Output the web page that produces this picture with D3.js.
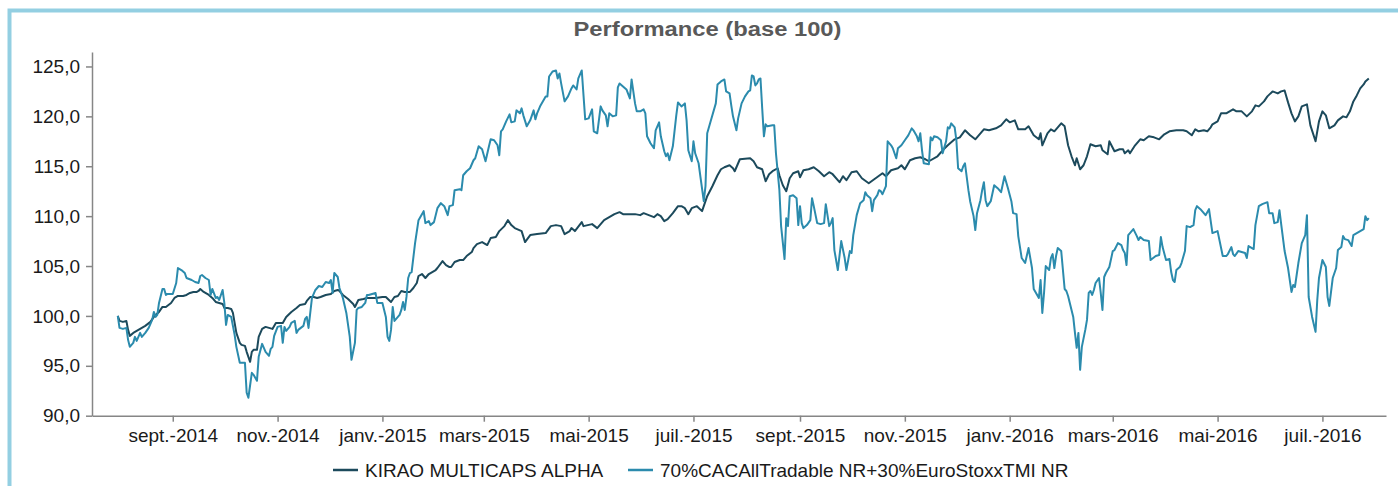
<!DOCTYPE html>
<html>
<head>
<meta charset="utf-8">
<script src="https://cdn.jsdelivr.net/npm/d3@7"></script>
<style>
  body { margin: 0; background: #fff; }
  svg { display: block; font-family: "Liberation Sans", Arial, sans-serif; }
</style>
</head>
<body>
<svg id="chart" width="1398" height="486"></svg>
<script>
// DATA
const seriesNames = ["KIRAO MULTICAPS ALPHA", "70%CACAllTradable NR+30%EuroStoxxTMI NR"];
const yTicks = [90, 95, 100, 105, 110, 115, 120, 125];
const monthNames = ["janv.", "févr.", "mars", "avr.", "mai", "juin", "juil.", "août", "sept.", "oct.", "nov.", "déc."];

const kiraoDates = [
  "2014-07-31","2014-08-01","2014-08-03","2014-08-05","2014-08-06","2014-08-07","2014-08-09","2014-08-11","2014-08-13","2014-08-16",
  "2014-08-19","2014-08-21","2014-08-22","2014-08-24","2014-08-26","2014-08-28","2014-08-31","2014-09-02","2014-09-04","2014-09-07",
  "2014-09-09","2014-09-11","2014-09-13","2014-09-15","2014-09-16","2014-09-17","2014-09-19","2014-09-22","2014-09-24","2014-09-26",
  "2014-09-28","2014-09-30","2014-10-01","2014-10-03","2014-10-05","2014-10-06","2014-10-07","2014-10-08","2014-10-10","2014-10-11",
  "2014-10-13","2014-10-14","2014-10-16","2014-10-17","2014-10-18","2014-10-20","2014-10-21","2014-10-23","2014-10-25","2014-10-27",
  "2014-10-29","2014-10-31","2014-11-02","2014-11-04","2014-11-06","2014-11-09","2014-11-12","2014-11-14","2014-11-17","2014-11-18",
  "2014-11-20","2014-11-22","2014-11-24","2014-11-26","2014-11-29","2014-12-02","2014-12-04","2014-12-06","2014-12-07","2014-12-09",
  "2014-12-12","2014-12-15","2014-12-16","2014-12-18","2014-12-21","2014-12-23","2014-12-28","2015-01-01","2015-01-03","2015-01-06",
  "2015-01-08","2015-01-10","2015-01-12","2015-01-14","2015-01-17","2015-01-19","2015-01-21","2015-01-22","2015-01-24","2015-01-26",
  "2015-01-28","2015-02-01","2015-02-02","2015-02-05","2015-02-07","2015-02-09","2015-02-10","2015-02-12","2015-02-15","2015-02-17",
  "2015-02-19","2015-02-22","2015-02-23","2015-02-25","2015-02-28","2015-03-03","2015-03-05","2015-03-08","2015-03-10","2015-03-13",
  "2015-03-15","2015-03-17","2015-03-19","2015-03-23","2015-03-25","2015-03-28","2015-04-01","2015-04-06","2015-04-09","2015-04-12",
  "2015-04-15","2015-04-17","2015-04-20","2015-04-21","2015-04-23","2015-04-27","2015-04-28","2015-05-03","2015-05-06","2015-05-10",
  "2015-05-14","2015-05-16","2015-05-19","2015-05-21","2015-05-28","2015-05-31","2015-06-02","2015-06-05","2015-06-08","2015-06-10",
  "2015-06-12","2015-06-14","2015-06-16","2015-06-19","2015-06-22","2015-06-24","2015-06-26","2015-06-28","2015-06-30","2015-07-03",
  "2015-07-06","2015-07-09","2015-07-12","2015-07-15","2015-07-17","2015-07-19","2015-07-22","2015-07-24","2015-07-25","2015-07-28",
  "2015-08-03","2015-08-05","2015-08-07","2015-08-10","2015-08-12","2015-08-14","2015-08-16","2015-08-19","2015-08-20","2015-08-22",
  "2015-08-24","2015-08-26","2015-08-28","2015-08-31","2015-09-01","2015-09-03","2015-09-06","2015-09-09","2015-09-12","2015-09-15",
  "2015-09-18","2015-09-20","2015-09-24","2015-09-26","2015-09-28","2015-10-01","2015-10-04","2015-10-07","2015-10-11","2015-10-15",
  "2015-10-19","2015-10-21","2015-10-24","2015-10-28","2015-10-30","2015-11-01","2015-11-04","2015-11-07","2015-11-10","2015-11-13",
  "2015-11-15","2015-11-20","2015-11-23","2015-11-26","2015-11-30","2015-12-03","2015-12-06","2015-12-09","2015-12-12","2015-12-14",
  "2015-12-17","2015-12-20","2015-12-24","2015-12-27","2015-12-30","2016-01-01","2016-01-04","2016-01-06","2016-01-10","2016-01-12",
  "2016-01-15","2016-01-18","2016-01-19","2016-01-20","2016-01-23","2016-01-25","2016-01-27","2016-01-31","2016-02-02","2016-02-04",
  "2016-02-06","2016-02-08","2016-02-09","2016-02-11","2016-02-13","2016-02-15","2016-02-17","2016-02-20","2016-02-23","2016-02-24",
  "2016-02-27","2016-02-28","2016-03-02","2016-03-05","2016-03-07","2016-03-08","2016-03-10","2016-03-11","2016-03-14","2016-03-17",
  "2016-03-19","2016-03-22","2016-03-25","2016-03-28","2016-03-31","2016-04-03","2016-04-07","2016-04-11","2016-04-13","2016-04-16",
  "2016-04-18","2016-04-20","2016-04-23","2016-04-25","2016-04-27","2016-04-28","2016-05-01","2016-05-03","2016-05-06","2016-05-10",
  "2016-05-12","2016-05-15","2016-05-18","2016-05-21","2016-05-23","2016-05-25","2016-05-28","2016-05-30","2016-06-02","2016-06-05",
  "2016-06-07","2016-06-09","2016-06-10","2016-06-11","2016-06-13","2016-06-15","2016-06-17","2016-06-19","2016-06-22","2016-06-24",
  "2016-06-27","2016-06-29","2016-07-01","2016-07-03","2016-07-05","2016-07-08","2016-07-10","2016-07-13","2016-07-15","2016-07-17",
  "2016-07-19","2016-07-21","2016-07-23","2016-07-25","2016-07-26","2016-07-28"
];
const kiraoValues = [
  100.0, 99.5, 99.4, 99.5, 98.6, 98.0, 98.3, 98.5, 98.7, 99.0,
  99.4, 99.9, 100.1, 100.4, 100.9, 100.9, 101.3, 101.8, 102.0, 102.0,
  102.1, 102.3, 102.4, 102.4, 102.5, 102.7, 102.4, 102.1, 101.8, 101.4,
  101.3, 101.2, 100.8, 100.8, 100.7, 100.3, 99.3, 98.3, 97.3, 97.1,
  97.0, 96.4, 95.4, 96.4, 96.6, 96.6, 97.9, 98.7, 98.9, 98.8,
  98.7, 99.3, 99.3, 99.3, 99.9, 100.4, 100.8, 101.1, 101.2, 101.5,
  101.9, 101.9, 101.8, 101.9, 102.1, 102.2, 102.5, 102.6, 102.5, 102.1,
  101.7, 101.2, 100.9, 101.6, 101.7, 101.8, 101.8, 101.9, 101.9, 101.4,
  101.9, 102.0, 102.5, 102.4, 102.4, 102.8, 103.3, 104.0, 104.2, 103.8,
  104.2, 104.6, 104.8, 105.5, 105.1, 104.9, 104.9, 105.4, 105.6, 105.6,
  106.0, 106.4, 106.8, 107.2, 107.4, 107.1, 107.8, 107.9, 108.5, 109.0,
  109.6, 109.1, 108.8, 108.5, 107.4, 108.1, 108.2, 108.3, 109.0, 109.1,
  109.0, 108.2, 108.5, 108.8, 108.5, 109.4, 109.0, 109.2, 108.8, 109.6,
  110.0, 110.2, 110.4, 110.2, 110.2, 110.1, 110.3, 110.1, 109.9, 110.2,
  110.0, 109.5, 109.7, 110.3, 111.0, 111.0, 110.8, 110.2, 110.8, 111.0,
  110.5, 112.0, 113.0, 114.1, 114.7, 114.9, 115.1, 114.8, 114.5, 115.7,
  115.8, 115.5, 114.9, 114.7, 113.5, 114.2, 114.5, 114.8, 114.1, 113.1,
  112.5, 113.8, 114.3, 114.5, 113.9, 114.6, 114.7, 114.9, 114.5, 114.0,
  114.4, 114.2, 113.4, 114.0, 113.6, 114.4, 114.5, 113.8, 113.3, 113.8,
  114.3, 114.0, 114.6, 114.8, 115.1, 114.7, 115.6, 115.8, 115.9, 115.7,
  115.5, 116.0, 116.6, 117.1, 117.7, 117.9, 118.6, 118.1, 117.7, 118.1,
  118.7, 118.6, 118.8, 119.1, 119.7, 119.4, 119.6, 118.7, 118.7, 119.0,
  118.1, 117.7, 118.3, 117.1, 118.3, 118.7, 118.5, 119.3, 119.0, 117.1,
  116.0, 115.1, 115.8, 114.7, 115.1, 116.0, 117.2, 117.0, 117.1, 116.6,
  116.2, 117.5, 116.5, 116.7, 116.7, 116.3, 116.6, 116.3, 117.1, 117.7,
  117.6, 118.0, 117.9, 117.7, 118.2, 118.5, 118.6, 118.6, 118.5, 118.1,
  118.7, 118.5, 118.6, 118.5, 118.9, 119.2, 119.5, 120.3, 120.3, 120.7,
  120.5, 120.5, 120.0, 120.5, 121.1, 121.0, 121.5, 122.0, 122.5, 122.3,
  122.5, 122.6, 122.0, 121.4, 120.3, 119.5, 120.0, 121.0, 121.2, 119.1,
  117.5, 119.5, 120.5, 120.1, 118.8, 119.1, 119.6, 120.0, 119.9, 120.5,
  121.5, 122.1, 122.8, 123.2, 123.5, 123.8
];

const benchDates = [
  "2014-07-31","2014-08-01","2014-08-03","2014-08-05","2014-08-06","2014-08-07","2014-08-09","2014-08-10","2014-08-11","2014-08-13",
  "2014-08-14","2014-08-16","2014-08-18","2014-08-20","2014-08-21","2014-08-22","2014-08-23","2014-08-24","2014-08-26","2014-08-27",
  "2014-08-28","2014-08-29","2014-09-01","2014-09-03","2014-09-04","2014-09-06","2014-09-08","2014-09-09","2014-09-12","2014-09-14",
  "2014-09-16","2014-09-17","2014-09-18","2014-09-20","2014-09-22","2014-09-23","2014-09-24","2014-09-26","2014-09-27","2014-09-28",
  "2014-09-30","2014-10-01","2014-10-02","2014-10-03","2014-10-05","2014-10-07","2014-10-08","2014-10-10","2014-10-12","2014-10-13",
  "2014-10-14","2014-10-15","2014-10-17","2014-10-18","2014-10-20","2014-10-21","2014-10-23","2014-10-25","2014-10-27","2014-10-28",
  "2014-10-29","2014-10-30","2014-11-01","2014-11-03","2014-11-04","2014-11-05","2014-11-06","2014-11-08","2014-11-09","2014-11-11",
  "2014-11-12","2014-11-13","2014-11-16","2014-11-17","2014-11-18","2014-11-19","2014-11-21","2014-11-23","2014-11-25","2014-11-27",
  "2014-11-29","2014-12-01","2014-12-02","2014-12-03","2014-12-04","2014-12-06","2014-12-07","2014-12-09","2014-12-11","2014-12-13",
  "2014-12-14","2014-12-16","2014-12-17","2014-12-18","2014-12-20","2014-12-22","2014-12-23","2014-12-24","2014-12-26","2014-12-28",
  "2014-12-29","2015-01-01","2015-01-03","2015-01-04","2015-01-05","2015-01-06","2015-01-07","2015-01-08","2015-01-11","2015-01-12",
  "2015-01-13","2015-01-14","2015-01-15","2015-01-16","2015-01-17","2015-01-18","2015-01-20","2015-01-22","2015-01-24","2015-01-25",
  "2015-01-26","2015-01-28","2015-01-29","2015-01-31","2015-02-02","2015-02-04","2015-02-06","2015-02-08","2015-02-09","2015-02-11",
  "2015-02-12","2015-02-15","2015-02-16","2015-02-17","2015-02-19","2015-02-21","2015-02-23","2015-02-24","2015-02-26","2015-02-28",
  "2015-03-02","2015-03-04","2015-03-05","2015-03-07","2015-03-09","2015-03-10","2015-03-11","2015-03-12","2015-03-14","2015-03-16",
  "2015-03-17","2015-03-19","2015-03-20","2015-03-22","2015-03-23","2015-03-24","2015-03-26","2015-03-28","2015-03-30","2015-03-31",
  "2015-04-01","2015-04-03","2015-04-06","2015-04-07","2015-04-08","2015-04-10","2015-04-12","2015-04-13","2015-04-14","2015-04-15",
  "2015-04-17","2015-04-19","2015-04-21","2015-04-22","2015-04-24","2015-04-25","2015-04-27","2015-04-29","2015-05-01","2015-05-03",
  "2015-05-04","2015-05-06","2015-05-08","2015-05-09","2015-05-11","2015-05-12","2015-05-13","2015-05-15","2015-05-17","2015-05-18",
  "2015-05-19","2015-05-21","2015-05-23","2015-05-25","2015-05-26","2015-05-28","2015-05-29","2015-05-31","2015-06-02","2015-06-03",
  "2015-06-04","2015-06-06","2015-06-08","2015-06-09","2015-06-11","2015-06-12","2015-06-14","2015-06-15","2015-06-16","2015-06-17",
  "2015-06-19","2015-06-21","2015-06-22","2015-06-24","2015-06-26","2015-06-27","2015-06-28","2015-06-30","2015-07-01","2015-07-02",
  "2015-07-04","2015-07-05","2015-07-07","2015-07-08","2015-07-09","2015-07-11","2015-07-14","2015-07-15","2015-07-17","2015-07-19",
  "2015-07-20","2015-07-22","2015-07-23","2015-07-24","2015-07-26","2015-07-27","2015-07-29","2015-07-31","2015-08-02","2015-08-03",
  "2015-08-04","2015-08-05","2015-08-06","2015-08-07","2015-08-08","2015-08-09","2015-08-10","2015-08-11","2015-08-12","2015-08-13",
  "2015-08-16","2015-08-17","2015-08-18","2015-08-20","2015-08-21","2015-08-23","2015-08-24","2015-08-25","2015-08-26","2015-08-28",
  "2015-08-30","2015-08-31","2015-09-01","2015-09-02","2015-09-03","2015-09-05","2015-09-07","2015-09-08","2015-09-09","2015-09-11",
  "2015-09-13","2015-09-15","2015-09-16","2015-09-18","2015-09-19","2015-09-20","2015-09-21","2015-09-23","2015-09-25","2015-09-27",
  "2015-09-28","2015-09-30","2015-10-01","2015-10-02","2015-10-04","2015-10-06","2015-10-08","2015-10-09","2015-10-10","2015-10-12",
  "2015-10-13","2015-10-14","2015-10-16","2015-10-17","2015-10-18","2015-10-19","2015-10-21","2015-10-22","2015-10-24","2015-10-25",
  "2015-10-27","2015-10-28","2015-10-30","2015-11-01","2015-11-03","2015-11-05","2015-11-06","2015-11-08","2015-11-09","2015-11-10",
  "2015-11-11","2015-11-12","2015-11-15","2015-11-16","2015-11-17","2015-11-18","2015-11-20","2015-11-22","2015-11-23","2015-11-25",
  "2015-11-26","2015-11-27","2015-11-28","2015-11-30","2015-12-01","2015-12-02","2015-12-04","2015-12-05","2015-12-06","2015-12-08",
  "2015-12-09","2015-12-11","2015-12-12","2015-12-13","2015-12-15","2015-12-16","2015-12-17","2015-12-18","2015-12-19","2015-12-21",
  "2015-12-23","2015-12-25","2015-12-27","2015-12-29","2015-12-31","2016-01-02","2016-01-03","2016-01-05","2016-01-06","2016-01-08",
  "2016-01-10","2016-01-12","2016-01-14","2016-01-15","2016-01-16","2016-01-18","2016-01-19","2016-01-20","2016-01-21","2016-01-22",
  "2016-01-24","2016-01-25","2016-01-26","2016-01-27","2016-01-28","2016-01-29","2016-01-31","2016-02-02","2016-02-03","2016-02-04",
  "2016-02-05","2016-02-07","2016-02-08","2016-02-09","2016-02-10","2016-02-11","2016-02-12","2016-02-14","2016-02-15","2016-02-16",
  "2016-02-17","2016-02-18","2016-02-19","2016-02-20","2016-02-22","2016-02-23","2016-02-24","2016-02-25","2016-02-26","2016-02-28",
  "2016-03-01","2016-03-02","2016-03-04","2016-03-06","2016-03-07","2016-03-08","2016-03-09","2016-03-10","2016-03-12","2016-03-13",
  "2016-03-15","2016-03-16","2016-03-17","2016-03-19","2016-03-22","2016-03-23","2016-03-26","2016-03-28","2016-03-29","2016-03-30",
  "2016-04-01","2016-04-03","2016-04-04","2016-04-05","2016-04-06","2016-04-07","2016-04-09","2016-04-10","2016-04-12","2016-04-13",
  "2016-04-15","2016-04-17","2016-04-18","2016-04-19","2016-04-21","2016-04-23","2016-04-24","2016-04-26","2016-04-28","2016-05-01",
  "2016-05-04","2016-05-06","2016-05-07","2016-05-09","2016-05-10","2016-05-11","2016-05-13","2016-05-15","2016-05-17","2016-05-18",
  "2016-05-19","2016-05-21","2016-05-22","2016-05-23","2016-05-25","2016-05-27","2016-05-30","2016-05-31","2016-06-02","2016-06-03",
  "2016-06-05","2016-06-06","2016-06-07","2016-06-09","2016-06-11","2016-06-13","2016-06-14","2016-06-15","2016-06-17","2016-06-19",
  "2016-06-21","2016-06-22","2016-06-23","2016-06-25","2016-06-27","2016-06-28","2016-06-29","2016-07-01","2016-07-03","2016-07-04",
  "2016-07-05","2016-07-07","2016-07-09","2016-07-10","2016-07-12","2016-07-13","2016-07-14","2016-07-16","2016-07-18","2016-07-19",
  "2016-07-21","2016-07-23","2016-07-25","2016-07-26","2016-07-27","2016-07-28"
];
const benchValues = [
  100.0, 98.8, 98.7, 98.8, 97.6, 96.9, 97.3, 97.9, 97.5, 98.3,
  97.9, 98.3, 98.8, 99.6, 100.4, 99.9, 100.1, 101.3, 102.7, 102.7,
  102.1, 102.2, 102.2, 103.3, 104.8, 104.6, 104.3, 103.8, 103.6, 103.4,
  103.3, 104.0, 104.1, 103.8, 103.6, 102.1, 102.7, 101.8, 101.9, 101.6,
  102.6, 101.3, 99.1, 100.1, 99.9, 98.1, 96.9, 95.3, 95.3, 95.3,
  92.3, 91.8, 94.3, 94.1, 93.5, 95.9, 97.2, 96.4, 96.0, 96.7,
  96.9, 98.0, 98.9, 99.0, 97.3, 98.9, 98.5, 98.9, 99.3, 99.5,
  98.3, 98.6, 99.0, 99.7, 99.9, 98.8, 101.8, 102.6, 103.0, 102.9,
  103.4, 103.3, 103.6, 102.3, 104.3, 103.9, 102.8, 101.8, 100.3, 97.9,
  95.6, 97.3, 100.6, 100.8, 100.9, 101.3, 102.1, 102.1, 102.2, 102.3,
  101.3, 101.3, 99.9, 97.9, 97.5, 98.6, 100.9, 99.5, 100.1, 100.6,
  101.4, 100.6, 101.9, 103.8, 104.3, 104.4, 107.3, 109.6, 110.2, 110.5,
  109.3, 109.5, 109.1, 109.4, 110.8, 111.3, 111.0, 110.1, 111.0, 111.1,
  112.6, 112.7, 112.6, 114.1, 114.5, 114.8, 115.6, 115.8, 117.0, 116.7,
  115.5, 117.0, 117.7, 117.6, 117.1, 116.1, 118.5, 118.7, 119.5, 120.2,
  119.4, 119.5, 120.6, 120.3, 120.8, 120.1, 119.0, 119.6, 120.6, 119.7,
  120.3, 121.1, 122.0, 122.0, 124.0, 124.5, 124.6, 123.8, 124.3, 123.3,
  121.5, 122.0, 122.8, 123.1, 122.7, 123.8, 124.6, 119.7, 119.8, 120.7,
  118.5, 118.3, 121.0, 120.6, 120.1, 119.0, 120.3, 120.0, 120.1, 122.9,
  123.3, 123.0, 122.7, 121.8, 123.7, 121.3, 120.5, 120.5, 120.7, 120.3,
  118.0, 117.3, 116.8, 118.6, 119.4, 118.0, 116.5, 116.0, 116.3, 115.6,
  117.0, 120.1, 121.4, 121.0, 121.3, 119.6, 116.6, 115.5, 117.5, 116.3,
  115.3, 114.0, 111.5, 113.0, 118.3, 119.5, 121.3, 123.2, 123.5, 123.7,
  122.5, 122.3, 121.1, 120.0, 118.6, 119.8, 121.3, 122.0, 122.5, 122.6,
  124.1, 124.0, 123.1, 123.3, 123.7, 123.8, 120.8, 118.0, 119.2, 119.0,
  119.1, 119.1, 116.3, 112.6, 109.0, 105.7, 109.8, 109.0, 112.0, 112.1,
  111.8, 109.1, 111.0, 109.3, 108.8, 109.1, 109.6, 111.8, 111.0, 109.3,
  109.2, 109.3, 111.2, 109.0, 109.3, 109.8, 106.6, 104.6, 107.5, 105.8,
  104.6, 106.5, 106.3, 108.1, 110.1, 111.3, 111.6, 112.4, 112.1, 111.8,
  110.5, 111.6, 112.1, 112.6, 112.5, 112.2, 113.0, 117.5, 117.1, 116.8,
  115.8, 116.8, 117.1, 117.6, 118.1, 118.8, 118.6, 118.0, 117.5, 118.3,
  116.6, 115.3, 115.2, 117.9, 117.6, 118.0, 117.9, 117.6, 116.3, 117.5,
  118.9, 118.8, 119.3, 118.9, 117.6, 114.8, 114.5, 115.0, 115.3, 112.6,
  111.5, 110.0, 108.6, 110.3, 111.6, 112.6, 113.4, 111.6, 111.0, 111.5,
  113.1, 112.8, 112.4, 114.0, 112.8, 111.5, 110.3, 110.2, 108.0, 105.8,
  105.3, 106.8, 104.8, 102.7, 102.4, 101.8, 103.6, 100.3, 102.3, 105.0,
  104.6, 105.8, 106.2, 104.8, 106.0, 106.8, 106.5, 102.7, 102.5, 102.0,
  101.3, 99.9, 98.3, 96.8, 98.3, 94.6, 96.9, 98.6, 99.6, 102.3,
  102.5, 102.1, 102.6, 103.3, 103.8, 102.3, 100.6, 103.9, 104.3, 104.9,
  106.5, 106.6, 107.3, 107.1, 106.6, 106.3, 105.1, 108.1, 108.5, 108.7,
  108.0, 107.6, 107.9, 107.6, 107.5, 105.6, 106.0, 106.1, 107.9, 106.9,
  105.6, 105.7, 104.4, 103.6, 103.4, 104.6, 104.9, 105.3, 106.5, 109.0,
  108.9, 109.1, 110.6, 111.0, 110.7, 110.3, 110.1, 110.7, 108.3, 108.5,
  106.0, 106.0, 106.2, 106.9, 106.2, 106.0, 106.5, 106.4, 106.3, 105.8,
  107.0, 106.8, 106.7, 109.1, 111.0, 111.2, 111.4, 110.3, 110.3, 109.3,
  109.4, 110.6, 109.2, 106.5, 104.8, 102.4, 103.1, 102.9, 105.3, 107.3,
  108.1, 110.1, 101.9, 99.9, 98.4, 101.6, 103.8, 105.6, 104.9, 101.9,
  101.0, 103.8, 104.8, 106.6, 106.9, 108.0, 107.7, 107.6, 107.0, 108.1,
  108.3, 108.5, 108.7, 110.0, 109.6, 109.8
];

// CONFIG
const svg = d3.select("#chart");
const width = +svg.attr("width");
const height = +svg.attr("height");
const margin = { top: 52, right: 12, left: 92 };
const plotRight = width - margin.right;
const plotBottom = 415.7;

const colors = ["#1c4a5c", "#2b8bad"];
const parseDate = d3.timeParse("%Y-%m-%d");
const frLocale = d3.formatLocale({ decimal: ",", thousands: " ", grouping: [3], currency: ["", " €"] });
const fmtY = frLocale.format(".1f");
const fmtX = d => `${monthNames[d.getMonth()]}-${d.getFullYear()}`;

const series = [
  kiraoDates.map((d, i) => ({ date: parseDate(d), value: kiraoValues[i] })),
  benchDates.map((d, i) => ({ date: parseDate(d), value: benchValues[i] }))
];

// frame
svg.append("rect")
  .attr("x", 9.5).attr("y", 10.5)
  .attr("width", width + 20).attr("height", height + 20)
  .attr("fill", "none")
  .attr("stroke", "#93cfe2")
  .attr("stroke-width", 4);

// title
svg.append("text")
  .attr("x", 707.5)
  .attr("y", 36)
  .attr("text-anchor", "middle")
  .attr("font-size", 20)
  .attr("font-weight", "bold")
  .attr("fill", "#595959")
  .attr("textLength", 268)
  .attr("lengthAdjust", "spacingAndGlyphs")
  .text("Performance (base 100)");

// scales
const x = d3.scaleTime()
  .domain([new Date(2014, 6, 16), new Date(2016, 7, 7)])
  .range([margin.left, plotRight]);

const y = d3.scaleLinear()
  .domain([90, 126.45])
  .range([plotBottom, margin.top]);

// ticks every 2 months, starting sept.-2014
const xTickValues = d3.timeMonth.every(2)
  .range(new Date(2014, 8, 1), x.domain()[1]);

// axes
const xAxisG = svg.append("g")
  .attr("transform", `translate(0,${plotBottom})`)
  .call(d3.axisBottom(x)
    .tickValues(xTickValues)
    .tickFormat(fmtX)
    .tickSize(6)
    .tickSizeOuter(0)
    .tickPadding(7));

const yAxisG = svg.append("g")
  .attr("transform", `translate(${margin.left},0)`)
  .call(d3.axisLeft(y)
    .tickValues(yTicks)
    .tickFormat(fmtY)
    .tickSize(6)
    .tickSizeOuter(0)
    .tickPadding(6));

[xAxisG, yAxisG].forEach(g => {
  g.select(".domain").attr("stroke", "#868686").attr("stroke-width", 1.5);
  g.selectAll(".tick line").attr("stroke", "#868686").attr("stroke-width", 1.5);
  g.selectAll(".tick text")
    .attr("fill", "#1a1a1a")
    .attr("font-size", 19)
    .attr("font-family", "'Liberation Sans', Arial, sans-serif");
});

// lines
const line = d3.line()
  .x(d => x(d.date))
  .y(d => y(d.value));

svg.append("g")
  .selectAll("path")
  .data(series)
  .join("path")
  .attr("d", line)
  .attr("fill", "none")
  .attr("stroke", (d, i) => colors[i])
  .attr("stroke-width", 2)
  .attr("stroke-linejoin", "round");

// legend
const legendY = 470;
const legendX = [333, 628];
const legend = svg.append("g");
seriesNames.forEach((name, i) => {
  const g = legend.append("g").attr("transform", `translate(${legendX[i]},${legendY})`);
  g.append("line")
    .attr("x1", 0).attr("x2", 25)
    .attr("stroke", colors[i])
    .attr("stroke-width", 2.5);
  g.append("text")
    .attr("x", 32)
    .attr("dy", "0.35em")
    .attr("font-size", 19)
    .attr("fill", "#1a1a1a")
    .text(name);
});
</script>
</body>
</html>
